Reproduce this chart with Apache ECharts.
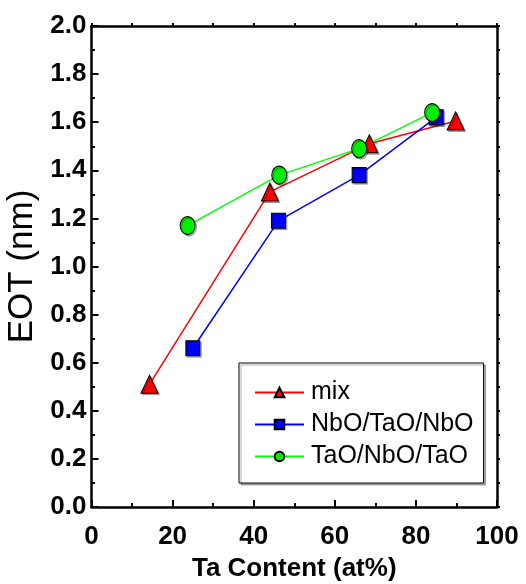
<!DOCTYPE html>
<html>
<head>
<meta charset="utf-8">
<script src="https://cdn.jsdelivr.net/npm/echarts@6/dist/echarts.min.js"></script>
<style>
  html, body { margin: 0; padding: 0; background: #fff; }
  #chart { width: 526px; height: 584px; }
</style>
</head>
<body>
<div id="chart"></div>
<script>
// Ta content (at%) and EOT (nm) for the three stack types
const seriesNames = ['mix', 'NbO/TaO/NbO', 'TaO/NbO/TaO'];
const mixTa  = [14.3, 44.0, 68.5, 89.8];
const mixEot = [0.51, 1.31, 1.51, 1.605];
const nbTa   = [25.0, 46.1, 66.0, 85.0];
const nbEot  = [0.66, 1.19, 1.38, 1.62];
const taTa   = [23.7, 46.3, 66.0, 84.0];
const taEot  = [1.17, 1.38, 1.49, 1.64];
const xTicks = [0, 20, 40, 60, 80, 100];

const FONT = '"Liberation Sans", Arial, sans-serif';

const pairs = (xs, ys) => xs.map((x, i) => [x, ys[i]]);

const markerStyle = (fill) => ({
  color: fill,
  borderColor: '#000',
  borderWidth: 1,
  shadowColor: 'rgba(0,0,0,0.28)',
  shadowOffsetX: 1.5,
  shadowOffsetY: 1.5,
  shadowBlur: 0
});

const makeSeries = (name, data, lineColor, fill, symbol, size) => ({
  name: name,
  type: 'line',
  data: data,
  symbol: symbol,
  symbolSize: size,
  showAllSymbol: true,
  lineStyle: { color: lineColor, width: 1.5 },
  itemStyle: markerStyle(fill),
  emphasis: { disabled: true },
  animation: false
});

const chart = echarts.init(document.getElementById('chart'), null, { renderer: 'canvas' });

const axisLine = { show: true, onZero: false, lineStyle: { color: '#000', width: 2.5 } };

chart.setOption({
  backgroundColor: '#fff',
  animation: false,
  grid: { left: 91.5, right: 29, top: 26, bottom: 77, containLabel: false, outerBoundsMode: 'none' },
  legend: {
    data: seriesNames.map(n => ({ name: n })),
    orient: 'vertical',
    left: 239,
    top: 363,
    padding: [16, 10, 13, 15],
    itemWidth: 49,
    itemHeight: 12,
    itemGap: 5,
    borderColor: '#000',
    borderWidth: 1,
    backgroundColor: '#fff',
    shadowColor: 'rgba(0,0,0,0.3)',
    shadowOffsetX: 2,
    shadowOffsetY: 2,
    textStyle: { fontFamily: FONT, fontSize: 25, lineHeight: 27, color: '#000', padding: [0, 0, 0, 2] },
    selectedMode: false
  },
  xAxis: [{
    type: 'value', min: 0, max: 100, interval: 20, position: 'bottom',
    name: 'Ta Content (at%)', nameLocation: 'middle', nameGap: 49,
    nameTextStyle: { fontFamily: FONT, fontSize: 26, fontWeight: 'bold', color: '#000' },
    axisLine: axisLine,
    axisTick: { show: true, inside: true, length: 7, lineStyle: { color: '#000', width: 2 } },
    minorTick: { show: true, splitNumber: 2, length: 4, lineStyle: { color: '#000', width: 2 } },
    axisLabel: { fontFamily: FONT, fontSize: 26, fontWeight: 'bold', color: '#000', margin: 17,
      customValues: xTicks },
    splitLine: { show: false }
  }, {
    type: 'value', min: 0, max: 100, interval: 10, position: 'top',
    axisLine: axisLine,
    axisTick: { show: true, inside: false, length: 3, lineStyle: { color: '#000', width: 2 } },
    axisLabel: { show: false },
    splitLine: { show: false }
  }],
  yAxis: [{
    type: 'value', min: 0, max: 2, interval: 0.2, position: 'left',
    name: 'EOT (nm)', nameLocation: 'middle', nameGap: 43,
    nameTextStyle: { fontFamily: FONT, fontSize: 35, color: '#000' },
    axisLine: axisLine,
    axisTick: { show: true, inside: true, length: 7, lineStyle: { color: '#000', width: 2 } },
    minorTick: { show: true, splitNumber: 2, length: 3.5, lineStyle: { color: '#000', width: 2 } },
    axisLabel: { fontFamily: FONT, fontSize: 26, fontWeight: 'bold', color: '#000', margin: 5,
      formatter: v => v.toFixed(1) },
    splitLine: { show: false }
  }, {
    type: 'value', min: 0, max: 2, interval: 0.1, position: 'right',
    axisLine: axisLine,
    axisTick: { show: true, inside: false, length: 3, lineStyle: { color: '#000', width: 2 } },
    axisLabel: { show: false },
    splitLine: { show: false }
  }],
  series: [
    makeSeries(seriesNames[0], pairs(mixTa, mixEot), '#ff0000', '#ff0000', 'triangle', [17, 18]),
    makeSeries(seriesNames[1], pairs(nbTa, nbEot), '#0000ff', '#0000ff', 'rect', [14, 15]),
    makeSeries(seriesNames[2], pairs(taTa, taEot), '#00ff00', '#00ee00', 'circle', [15, 18])
  ]
});
</script>
</body>
</html>
